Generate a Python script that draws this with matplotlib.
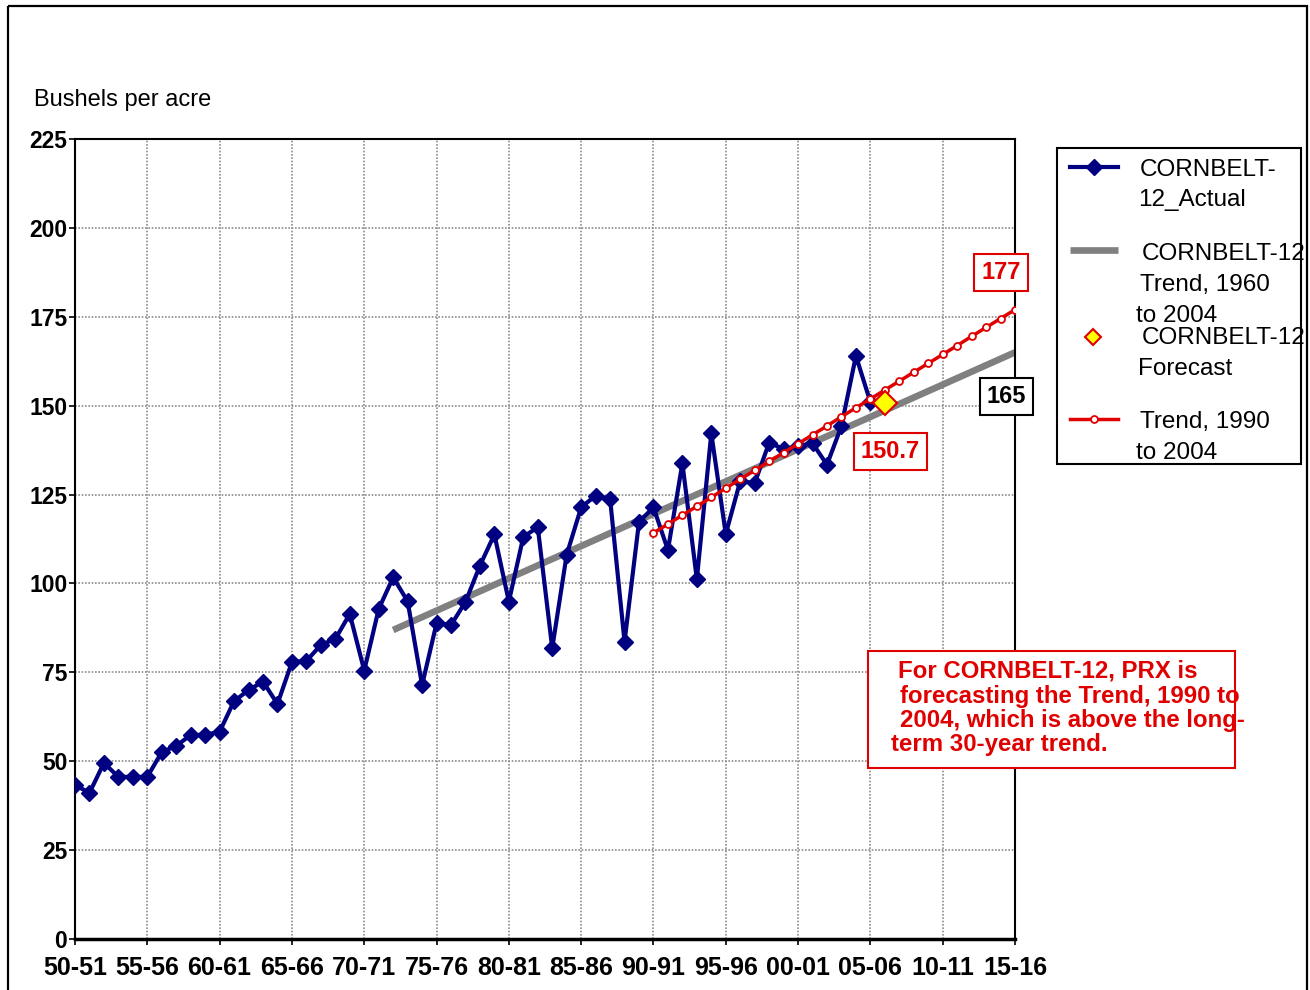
import numpy as np
import matplotlib
matplotlib.use("Agg")
from matplotlib import pyplot as plt
from matplotlib.patches import Rectangle

plt.rcParams['font.family'] = ['Liberation Sans', 'DejaVu Sans']

# Cornbelt-12 yields, bushels per acre
years = list(range(1950, 2006))
actual = [43.3, 41.1, 49.5, 45.6, 45.6, 45.6, 52.6, 54.3, 57.4, 57.4,
          58.3, 66.9, 70.0, 72.4, 66.1, 77.9, 78.2, 82.7, 84.4, 91.4,
          75.5, 92.8, 101.7, 95.0, 71.4, 88.8, 88.3, 94.8, 105.0, 113.8,
          94.9, 113.1, 115.8, 81.8, 108.1, 121.4, 124.7, 123.8, 83.6, 117.3,
          121.4, 109.4, 133.8, 101.2, 142.2, 113.9, 128.8, 128.2, 139.6, 137.8,
          138.6, 139.4, 133.4, 144.3, 164.0, 151.0]

# long-term trend 1960-2004, drawn from 1972 out to 2015
trend_long_years = [1972, 2015]
trend_long = [86.9, 165.0]

# trend 1990-2004 extended to 2015
trend_short_years = list(range(1990, 2016))
trend_short = [114.2, 116.7, 119.2, 121.7, 124.2, 126.8, 129.3, 131.8, 134.3, 136.8,
               139.3, 141.8, 144.3, 146.9, 149.4, 151.9, 154.4, 156.9, 159.4, 161.9,
               164.4, 166.9, 169.5, 172.0, 174.5, 177.0]

forecast_year = 2006
forecast = 150.7

xtick_years = list(range(1950, 2016, 5))
xtick_labels = ['50-51', '55-56', '60-61', '65-66', '70-71', '75-76', '80-81',
                '85-86', '90-91', '95-96', '00-01', '05-06', '10-11', '15-16']
yticks = [0, 25, 50, 75, 100, 125, 150, 175, 200, 225]

W, H = 1310, 990
fig = plt.figure(figsize=(W / 100, H / 100), dpi=100)
ax = fig.add_axes([75 / W, 1 - 939 / H, 940 / W, 800 / H])

navy = '#000080'
red = '#e00000'

ax.plot(trend_long_years, trend_long, color='#808080', lw=4.8, zorder=2,
        solid_capstyle='butt')
ax.plot(years, actual, color=navy, lw=3, marker='D', markersize=8,
        markeredgecolor=navy, zorder=3)
ax.plot(trend_short_years, trend_short, color=red, lw=2.5, marker='o',
        markersize=5, markerfacecolor='white', markeredgecolor=red,
        markeredgewidth=1.3, zorder=4)
ax.plot([forecast_year], [forecast], marker='D', markersize=12,
        markerfacecolor='#ffff00', markeredgecolor=red, markeredgewidth=1.5,
        linestyle='none', zorder=5)

ax.set_xlim(1950, 2015)
ax.set_ylim(0, 225)
ax.set_xticks(xtick_years)
ax.set_xticklabels(xtick_labels)
ax.set_yticks(yticks)
ax.grid(True, color='#8c8c8c', linestyle=(0, (1, 1)), lw=1.2, zorder=0)
ax.set_axisbelow(True)
ax.tick_params(axis='both', direction='out', length=4.5, width=1.2,
               labelsize=16.5, color='black')
ax.tick_params(axis='x', pad=8, labelsize=18)
ax.tick_params(axis='y', pad=1)
for lbl in ax.get_xticklabels() + ax.get_yticklabels():
    lbl.set_fontweight('bold')
for side in ['left', 'right', 'top']:
    ax.spines[side].set_linewidth(1.5)
ax.spines['bottom'].set_linewidth(2.5)

# value boxes
def value_box(x, y, val, dx, dy, color):
    ax.annotate(f'{val:g}', xy=(x, y), xytext=(dx, dy),
                textcoords='offset points', ha='center', va='center',
                fontsize=17, fontweight='bold', color=color,
                bbox=dict(boxstyle='square,pad=0.3', fc='white', ec=color, lw=1.5),
                annotation_clip=False, zorder=6)

value_box(trend_short_years[-1], trend_short[-1], trend_short[-1], -10, 27, red)
value_box(trend_long_years[-1], trend_long[-1], trend_long[-1], -6, -32, 'black')
value_box(forecast_year, forecast, forecast, 4, -35, red)

# overlay in pixel coordinates for frame, legend and note
ov = fig.add_axes([0, 0, 1, 1], zorder=10)
ov.set_xlim(0, W)
ov.set_ylim(H, 0)
ov.axis('off')
ov.patch.set_alpha(0)

ov.add_patch(Rectangle((8, 6), 1299, 1000, fill=False, ec='black', lw=1.6))
fig.text(34 / W, 1 - 100 / H, 'Bushels per acre', fontsize=17,
         ha='left', va='center')

# legend
ov.add_patch(Rectangle((1057, 148), 244, 316, fc='white', ec='black', lw=1.5))
ov.plot([1070, 1118], [167, 167], color=navy, lw=3)
ov.plot([1094], [167], marker='D', markersize=8, color=navy)
ov.plot([1070, 1118], [250, 250], color='#808080', lw=4.8, solid_capstyle='butt')
ov.plot([1093], [337], marker='D', markersize=8, markerfacecolor='#ffff00',
        markeredgecolor=red, markeredgewidth=1.5)
ov.plot([1070, 1118], [419, 419], color=red, lw=2.5)
ov.plot([1094], [419], marker='o', markersize=5, markerfacecolor='white',
        markeredgecolor=red, markeredgewidth=1.3)

legend_lines = [
    (1140, 170, 'CORNBELT-'), (1138, 200, '12_Actual'),
    (1142, 254, 'CORNBELT-12'), (1140, 285, 'Trend, 1960'), (1136, 316, 'to 2004'),
    (1142, 338, 'CORNBELT-12'), (1138, 369, 'Forecast'),
    (1140, 422, 'Trend, 1990'), (1136, 453, 'to 2004'),
]
for x, y, s in legend_lines:
    ov.text(x, y, s, fontsize=17.5, ha='left', va='center')

# note box
ov.add_patch(Rectangle((868, 651), 367, 117, fc='white', ec=red, lw=1.5))
note_lines = [
    (898, 671, 'For CORNBELT-12, PRX is'),
    (900, 696, 'forecasting the Trend, 1990 to'),
    (900, 720, '2004, which is above the long-'),
    (891, 744, 'term 30-year trend.'),
]
for x, y, s in note_lines:
    ov.text(x, y, s, fontsize=17.3, fontweight='bold', color=red,
            ha='left', va='center')

fig.savefig('out.png', dpi=100)
